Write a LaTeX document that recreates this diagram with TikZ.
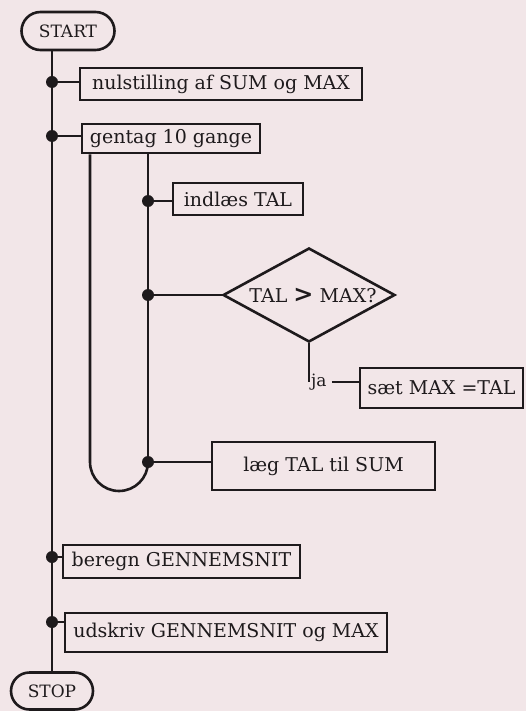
\documentclass[tikz,border=0pt]{standalone}
\usepackage{fontspec}
\setmainfont{DejaVu Serif}
\usetikzlibrary{shapes.geometric,shapes.misc}
\definecolor{paper}{RGB}{242,230,232}
\definecolor{ink}{RGB}{30,26,28}
\begin{document}
\begin{tikzpicture}[x=1pt,y=-1pt,
  font=\fontsize{19}{21}\selectfont,
  box/.style={draw=ink, line width=2.6pt, rectangle, inner sep=0pt, text=ink},
  term/.style={draw=ink, line width=2.6pt, rounded rectangle, inner sep=0pt, text=ink},
  dia/.style={draw=ink, line width=2.6pt, diamond, inner sep=0pt},
  dot/.style={circle, fill=ink, minimum size=12pt, inner sep=0pt},
  wire/.style={draw=ink, line width=2.6pt}]
\fill[paper] (0,0) rectangle (526,711);
\useasboundingbox (0,0) rectangle (526,711);

\node[term, minimum width=93, minimum height=38, font=\fontsize{17}{19}\selectfont] (start) at (68,31) {START};
\node[term, minimum width=82, minimum height=37, font=\fontsize{17}{19}\selectfont] (stop) at (52,691) {STOP};

\node[box, minimum width=282, minimum height=32] (b1) at (221,84) {nulstilling af SUM og MAX};
\node[box, minimum width=178, minimum height=29] (b2) at (171,138.5) {gentag 10 gange};
\node[box, minimum width=130, minimum height=32] (b3) at (238,199) {indlæs TAL};
\node[dia, minimum width=172, minimum height=94] (d) at (309,295) {};
\node[inner sep=0pt, text=ink] (dt) at ([xshift=4pt]d.center) {TAL {\bfseries\fontsize{24}{24}\selectfont >} MAX?};
\node[box, minimum width=163, minimum height=40] (b5) at (441.5,388) {sæt MAX =TAL};
\node[box, minimum width=223, minimum height=48] (b6) at (323.5,466) {læg TAL til SUM};
\node[box, minimum width=237, minimum height=33] (b7) at (181.5,561.5) {beregn GENNEMSNIT};
\node[box, minimum width=322, minimum height=39] (b8) at (226,632.5) {udskriv GENNEMSNIT og MAX};

\node[dot] (d1) at (52,82) {};
\node[dot] (d2) at (52,136) {};
\node[dot] (d3) at (148,201) {};
\node[dot] (d4) at (148,295) {};
\node[dot] (d5) at (148,462) {};
\node[dot] (d6) at (52,557) {};
\node[dot] (d7) at (52,622) {};
\coordinate (lp) at (90,462);
\coordinate (jaend) at (d.south |- 0,382);
\node[anchor=west, inner sep=1pt, text=ink, font=\fontsize{17}{19}\selectfont] (ja) at ([xshift=1pt]jaend) {ja};

% main spine
\path[wire] (start.south -| d1) -- (stop.north);
% branches
\path[wire] (d1) -- (d1 -| b1.west);
\path[wire] (d2) -- (d2 -| b2.west);
\path[wire] (d3) -- (d3 -| b3.west);
\path[wire] (d4) -- (d.west);
\path[wire] (d5) -- (d5 -| b6.west);
\path[wire] (d6) -- (d6 -| b7.west);
\path[wire] (d7) -- (d7 -| b8.west);
% loop
\path[wire] (b2.south -| d3) -- (d5);
\path[wire] (b2.south -| lp) -- (lp) arc[start angle=180, end angle=0, radius=29];
% decision
\path[wire] (d.south) -- (jaend);
\path[wire] ([xshift=4pt]ja.east) -- (ja.east -| b5.west);
\end{tikzpicture}
\end{document}
